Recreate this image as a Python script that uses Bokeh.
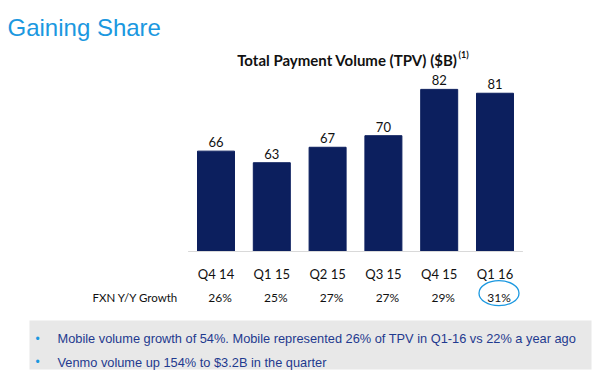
from bokeh.plotting import figure
from bokeh.models import Range1d
from bokeh.core.properties import value
from bokeh.embed import file_html
from bokeh.resources import INLINE

# ---- data ----
quarters = ["Q4 14", "Q1 15", "Q2 15", "Q3 15", "Q4 15", "Q1 16"]
tpv = [66, 63, 67, 70, 82, 81]
growth = ["26%", "25%", "27%", "27%", "29%", "31%"]
title = "Gaining Share"
subtitle = "Total Payment Volume (TPV) ($B)"
footnote_mark = "(1)"
row_label = "FXN Y/Y Growth"
bullets = [
    "Mobile volume growth of 54%. Mobile represented 26% of TPV in Q1-16 vs 22% a year ago",
    "Venmo volume up 154% to $3.2B in the quarter",
]
axis_min = 40

# ---- layout (pixels) ----
W, H = 600, 379
X0 = 215.5      # x of first category centre
PITCH = 55.8    # px per category
BASE_Y = 251    # y (from top) of value axis_min
YS = 3.86       # px per $B

def fx(px):
    return (px - X0) / PITCH

def fy(py):
    return axis_min + (BASE_Y - py) / YS

idx = list(range(len(quarters)))

p = figure(width=W, height=H, output_backend="svg", toolbar_location=None,
           x_range=Range1d(fx(0), fx(W)), y_range=Range1d(fy(H), fy(0)),
           min_border=0, outline_line_color=None)
p.axis.visible = False
p.grid.visible = False
p.background_fill_color = "white"
p.border_fill_color = "white"

BAR = "#0c1f5e"
BLUE = "#1b98e0"
TXT_BLUE = "#1f3a8f"

# bars
p.vbar(x=idx, top=tpv, bottom=axis_min, width=0.663, fill_color=BAR,
       line_color=BAR)
# baseline
p.segment(x0=[-0.5], x1=[len(quarters) - 0.5], y0=[axis_min], y1=[axis_min],
          line_color="#d9d9d9", line_width=1.2)

# value labels
p.text(x=idx, y=tpv, text=[str(v) for v in tpv], text_align="center",
       text_baseline="alphabetic", y_offset=-9, text_font=value("Lato"),
       text_font_size="13px", text_color="#111111")

# category labels
p.text(x=idx, y=[axis_min] * len(idx), text=quarters, text_align="center",
       text_baseline="alphabetic", y_offset=22, text_font=value("Lato"),
       text_font_size="13px", text_color="#111111")

# growth row
gy = fy(296.7)
p.text(x=idx, y=[gy] * len(idx), text=growth, text_align="center",
       text_baseline="alphabetic", x_offset=4, text_font=value("Lato"),
       text_font_size="12px", text_color="#111111")
p.text(x=[fx(92)], y=[gy], text=[row_label], text_align="left",
       text_baseline="alphabetic", text_font=value("Lato"),
       text_font_size="11.5px", text_color="#111111")
p.ellipse(x=[idx[-1] + 4 / PITCH], y=[fy(292.7)], width=40, height=25,
          width_units="screen", height_units="screen", fill_alpha=0,
          line_color=BLUE, line_width=1.3)

# title
p.text(x=[fx(7)], y=[fy(27)], text=[title], text_align="left",
       text_baseline="alphabetic", text_font=value("Liberation Sans"),
       text_font_size="24px", text_color=BLUE)

# subtitle
p.text(x=[fx(457)], y=[fy(59)], text=[subtitle], text_align="right",
       text_baseline="alphabetic", text_font=value("Lato"),
       text_font_style="bold", text_font_size="15px", text_color="#111111")
p.text(x=[fx(458)], y=[fy(54)], text=[footnote_mark], text_align="left",
       text_baseline="alphabetic", text_font=value("Lato"),
       text_font_style="bold", text_font_size="9px", text_color="#111111")

# bottom box
p.quad(left=[fx(29)], right=[fx(591)], top=[fy(320)], bottom=[fy(369)],
       fill_color="#e8e8e8", line_color=None)
for i, b in enumerate(bullets):
    yb = fy(338.3 + i * 23.5)
    p.text(x=[fx(37)], y=[yb], text=["•"], text_align="center",
           text_baseline="alphabetic", text_font=value("Liberation Sans"),
           text_font_size="12px", text_color=BLUE)
    p.text(x=[fx(57)], y=[yb], text=[b], text_align="left",
           text_baseline="alphabetic", text_font=value("Liberation Sans"),
           text_font_size="12.8px", text_color=TXT_BLUE)

open("out.html", "w").write(file_html(p, INLINE))
